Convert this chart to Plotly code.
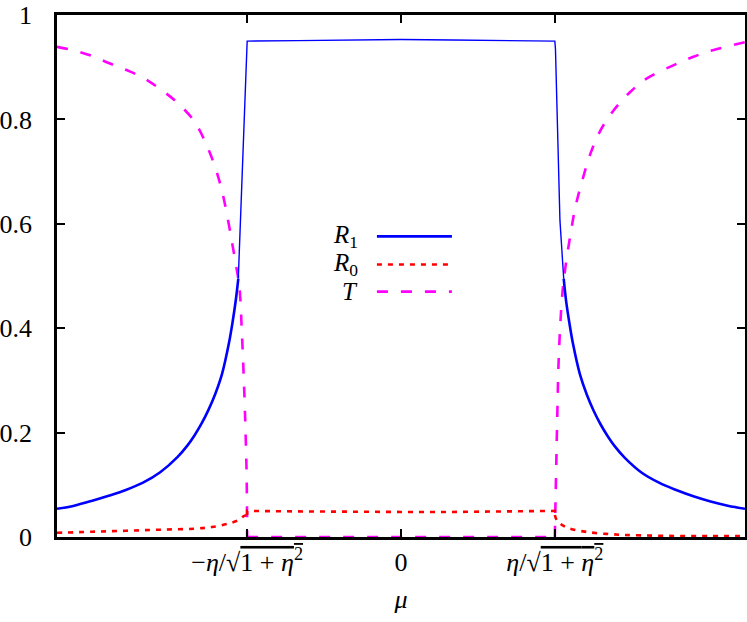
import plotly.graph_objects as go

# ---------------- data ----------------
ETA_TICK = 0.4472  # eta / sqrt(1 + eta^2)

# R1 (blue, solid) – outer left branch
r1_left_mu = [-1.0, -0.95, -0.9, -0.85, -0.8, -0.75, -0.7, -0.65, -0.62, -0.6, -0.58,
              -0.56, -0.54, -0.52, -0.50, -0.49, -0.48, -0.473]
r1_left_val = [0.054, 0.060, 0.069, 0.079, 0.090, 0.104, 0.124, 0.153, 0.176, 0.195, 0.217,
               0.243, 0.274, 0.313, 0.372, 0.410, 0.455, 0.495]
# R1 steep parts + plateau (thin line)
r1_mid_mu = [-0.473, -0.467, -0.459, -0.452, -0.449, -0.4472, -0.3, -0.15, 0.0,
             0.15, 0.3, 0.4472, 0.449, 0.452, 0.455, 0.462, 0.473]
r1_mid_val = [0.495, 0.607, 0.735, 0.862, 0.939, 0.950, 0.951, 0.952, 0.953,
              0.952, 0.951, 0.950, 0.935, 0.860, 0.735, 0.607, 0.495]
# R1 outer right branch
r1_right_mu = [0.473, 0.48, 0.49, 0.50, 0.52, 0.54, 0.56, 0.58, 0.6, 0.62, 0.65, 0.7,
               0.75, 0.8, 0.85, 0.9, 0.95, 1.0]
r1_right_val = [0.495, 0.452, 0.408, 0.370, 0.312, 0.273, 0.242, 0.216, 0.194, 0.175, 0.152,
                0.123, 0.104, 0.090, 0.078, 0.068, 0.060, 0.054]

# R0 (red, dotted): left branch, plateau, right branch
r0_left_mu = [-1.0, -0.9, -0.8, -0.7, -0.6, -0.55, -0.5, -0.47, -0.457, -0.4472]
r0_left_val = [0.008, 0.010, 0.012, 0.014, 0.016, 0.019, 0.026, 0.033, 0.040, 0.042]
r0_mid_mu = [-0.4472, -0.4472, -0.3, -0.15, 0.0, 0.15, 0.3, 0.4472, 0.4472]
r0_mid_val = [0.042, 0.050, 0.049, 0.048, 0.048, 0.048, 0.049, 0.050, 0.042]
r0_right_mu = [0.4472, 0.454, 0.483, 0.541, 0.619, 0.7, 0.8, 0.9, 1.0]
r0_right_val = [0.042, 0.031, 0.018, 0.0096, 0.005, 0.003, 0.002, 0.002, 0.002]

# T (magenta, dashed): left branch, zero plateau, right branch
t_left_mu = [-1.0, -0.95, -0.9, -0.85, -0.8, -0.75, -0.7, -0.65, -0.6, -0.58, -0.56,
             -0.54, -0.52, -0.50, -0.49, -0.48, -0.47, -0.462, -0.455, -0.451, -0.449,
             -0.448, -0.4472]
t_left_val = [0.939, 0.932, 0.922, 0.908, 0.895, 0.880, 0.858, 0.832, 0.796, 0.772, 0.743,
              0.708, 0.662, 0.597, 0.560, 0.522, 0.480, 0.383, 0.267, 0.180, 0.127,
              0.080, 0.0]
t_mid_mu = [-0.4472, 0.0, 0.4472]
t_mid_val = [0.0, 0.0, 0.0]
t_right_mu = [0.4472, 0.448, 0.449, 0.454, 0.459, 0.469, 0.478, 0.493, 0.507, 0.527,
              0.551, 0.58, 0.619, 0.667, 0.716, 0.793, 0.85, 0.909, 1.0]
t_right_val = [0.0, 0.030, 0.063, 0.223, 0.351, 0.466, 0.517, 0.581, 0.632, 0.683,
               0.735, 0.779, 0.818, 0.853, 0.879, 0.904, 0.920, 0.933, 0.948]

x_tickvals = [-ETA_TICK, 0.0, ETA_TICK]
x_ticktext = ["\u2212<i>η</i>/√<span style='text-decoration:overline'>1 + <i>η</i><sup>2</sup></span>",
              "0",
              "<i>η</i>/√<span style='text-decoration:overline'>1 + <i>η</i><sup>2</sup></span>"]
y_tickvals = [0, 0.2, 0.4, 0.6, 0.8, 1.0]
y_ticktext = ["0", "0.2", "0.4", "0.6", "0.8", "1"]

legend_labels = ["<i>R</i><sub>1</sub>", "<i>R</i><sub>0</sub>", "<i>T</i>"]
# ---------------------------------------------------------------

BLUE = "#0000ff"
RED = "#ff0000"
MAG = "#ff00ff"
FONT = "Liberation Serif"
T_DASH = "11px,13px"
R0_DASH = "5px,6px"

fig = go.Figure()
def add(x, y, color, width, dash="solid", shape="linear"):
    fig.add_trace(go.Scatter(x=x, y=y, mode="lines",
                             line=dict(color=color, width=width, dash=dash,
                                       shape=shape, smoothing=1.0),
                             showlegend=False, hoverinfo="skip"))

add(t_left_mu, t_left_val, MAG, 2.6, T_DASH, "spline")
add(t_mid_mu, t_mid_val, MAG, 2.6, T_DASH)
add(t_right_mu, t_right_val, MAG, 2.6, T_DASH, "spline")
add(r0_left_mu, r0_left_val, RED, 2.6, R0_DASH, "spline")
add(r0_mid_mu, r0_mid_val, RED, 2.6, R0_DASH)
add(r0_right_mu, r0_right_val, RED, 2.6, R0_DASH, "spline")
add(r1_left_mu, r1_left_val, BLUE, 2.6, "solid", "spline")
add(r1_mid_mu, r1_mid_val, BLUE, 1.4)
add(r1_right_mu, r1_right_val, BLUE, 2.6, "solid", "spline")

# custom legend (label left, sample right, as in the reference)
leg_y = [0.576, 0.522, 0.470]
leg_styles = [dict(color=BLUE, width=2.6, dash="solid"),
              dict(color=RED, width=2.6, dash=R0_DASH),
              dict(color=MAG, width=2.6, dash=T_DASH)]
for lab, yy, st in zip(legend_labels, leg_y, leg_styles):
    fig.add_annotation(x=0.4405, y=yy, xref="paper", yref="paper", text=lab,
                       showarrow=False, xanchor="right", yanchor="middle",
                       font=dict(family=FONT, size=25, color="black"))
    fig.add_shape(type="line", xref="paper", yref="paper", x0=0.465, x1=0.574,
                  y0=yy, y1=yy, line=st)

fig.update_layout(
    width=747, height=622,
    margin=dict(l=57, r=2, t=15, b=85),
    paper_bgcolor="white", plot_bgcolor="white",
    font=dict(family=FONT, size=26, color="black"),
    showlegend=False,
)
fig.update_xaxes(range=[-1, 1], tickvals=x_tickvals, ticktext=x_ticktext,
                 ticks="inside", ticklen=8, tickwidth=2, tickcolor="black",
                 showline=True, linecolor="black", linewidth=2.5, mirror="ticks",
                 showgrid=False, zeroline=False, automargin=False,
                 title=dict(text="<i>μ</i>", font=dict(family=FONT, size=26), standoff=14))
fig.update_yaxes(range=[0, 1], tickvals=y_tickvals, ticktext=y_ticktext,
                 ticks="inside", ticklen=8, tickwidth=2, tickcolor="black",
                 showline=True, linecolor="black", linewidth=2.5, mirror="ticks",
                 showgrid=False, zeroline=False, ticklabelstandoff=17, automargin=False)

fig.write_html("out.html", config={"displayModeBar": False},
               post_script="document.body.style.margin='0';document.body.style.overflow='hidden';")
